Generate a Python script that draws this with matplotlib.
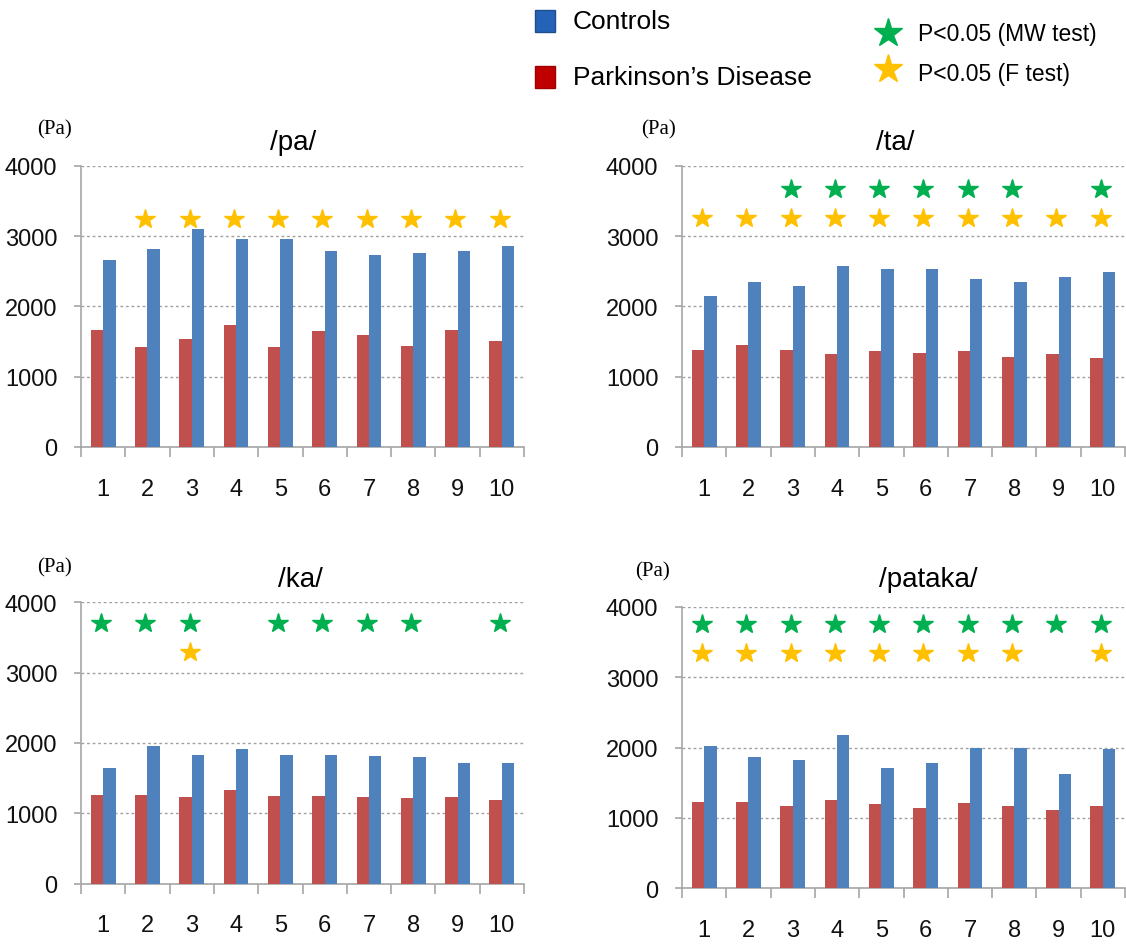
import matplotlib
matplotlib.use('Agg')
import matplotlib.pyplot as plt
from matplotlib.patches import Rectangle
from matplotlib.lines import Line2D

# 数据
groups = ['/pa/', '/ta/', '/ka/', '/pataka/']
trials = list(range(1, 11))

pd_pa = [1658, 1425, 1534, 1734, 1425, 1644, 1596, 1439, 1658, 1501]
ctrl_pa = [2665, 2817, 3097, 2960, 2960, 2784, 2727, 2755, 2784, 2865]
pd_ta = [1381, 1457, 1381, 1329, 1362, 1343, 1362, 1286, 1329, 1272]
ctrl_ta = [2142, 2351, 2285, 2570, 2537, 2537, 2394, 2351, 2413, 2494]
pd_ka = [1265, 1265, 1237, 1332, 1251, 1251, 1237, 1218, 1237, 1190]
ctrl_ka = [1640, 1953, 1829, 1910, 1829, 1829, 1810, 1796, 1720, 1720]
pd_pataka = [1223, 1223, 1166, 1256, 1194, 1147, 1209, 1166, 1114, 1166]
ctrl_pataka = [2019, 1863, 1820, 2175, 1706, 1787, 2000, 2000, 1630, 1981]

# 显著性星号所在的 trial 及其高度
mw_pa = []
f_pa = [2, 3, 4, 5, 6, 7, 8, 9, 10]
mw_ta = [3, 4, 5, 6, 7, 8, 10]
f_ta = [1, 2, 3, 4, 5, 6, 7, 8, 9, 10]
mw_ka = [1, 2, 3, 5, 6, 7, 8, 10]
f_ka = [3]
mw_pataka = [1, 2, 3, 4, 5, 6, 7, 8, 9, 10]
f_pataka = [1, 2, 3, 4, 5, 6, 7, 8, 10]
mw_level = [3700, 3670, 3706, 3758]
f_level = [3240, 3250, 3289, 3346]

pd_all = [pd_pa, pd_ta, pd_ka, pd_pataka]
ctrl_all = [ctrl_pa, ctrl_ta, ctrl_ka, ctrl_pataka]
mw_all = [mw_pa, mw_ta, mw_ka, mw_pataka]
f_all = [f_pa, f_ta, f_ka, f_pataka]

RED = '#C0504D'
BLUE = '#4F81BD'
GREEN = '#00B050'
GOLD = '#FFC000'
GREY = '#A6A6A6'
SANS = ['Liberation Sans', 'DejaVu Sans']
SERIF = ['Liberation Serif', 'DejaVu Serif']

W, H = 1126, 945
fig = plt.figure(figsize=(W / 100, H / 100), dpi=100)

# 每个面板: 左, 上(4000), 下(0), 像素
panels = [(81, 166.7, 448), (682, 166.7, 448), (81, 603.3, 884.7), (682, 608, 889.3)]
titles_pos = [(293, 143), (895, 143), (300, 580), (928, 580)]
pa_pos = [(54, 130), (659, 130), (54, 568), (652, 572)]

for i in range(4):
    left, top, bottom = panels[i]
    ax = fig.add_axes([left / W, 1 - bottom / H, 443 / W, (bottom - top) / H])
    x = trials
    ax.bar([t - 0.14 for t in x], pd_all[i], width=0.28, color=RED, zorder=3)
    ax.bar([t + 0.14 for t in x], ctrl_all[i], width=0.28, color=BLUE, zorder=3)
    ax.plot([t - 0.05 for t in mw_all[i]], [mw_level[i]] * len(mw_all[i]), ls='none',
            marker='*', ms=15, color=GREEN, zorder=4)
    ax.plot([t - 0.05 for t in f_all[i]], [f_level[i]] * len(f_all[i]), ls='none',
            marker='*', ms=15, color=GOLD, zorder=4)

    ax.set_xlim(0.5, 10.5)
    ax.set_ylim(0, 4000)
    ax.set_yticks([0, 1000, 2000, 3000, 4000])
    ax.set_xticks(x)
    ax.set_xticks([t + 0.5 for t in range(0, 11)], minor=True)
    ax.tick_params(axis='x', which='major', length=0, pad=22)
    ax.tick_params(axis='x', which='minor', length=7, color=GREY, width=1.2)
    ax.tick_params(axis='y', length=5, color=GREY, width=1.2, pad=12)
    for lab in ax.get_xticklabels() + ax.get_yticklabels():
        lab.set_fontfamily(SANS)
        lab.set_fontsize(17)
        lab.set_color('#111111')
    ax.grid(axis='y', linestyle=(0, (2, 2)), color='#A0A0A0', linewidth=1, zorder=0)
    for s in ['top', 'right']:
        ax.spines[s].set_visible(False)
    for s in ['left', 'bottom']:
        ax.spines[s].set_color(GREY)
        ax.spines[s].set_linewidth(1.2)

    tx, ty = titles_pos[i]
    fig.text(tx / W, 1 - ty / H, groups[i], fontsize=20, ha='center', va='center', family=SANS)
    px, py = pa_pos[i]
    fig.text(px / W, 1 - py / H, '(Pa)', fontsize=15, ha='center', va='center', family=SERIF)

# 图例
fig.patches.append(Rectangle((535 / W, 1 - 33 / H), 20 / W, 22 / H, transform=fig.transFigure,
                             facecolor='#2563B8', edgecolor='#1F4E8C', lw=1))
fig.patches.append(Rectangle((535 / W, 1 - 89 / H), 20 / W, 22 / H, transform=fig.transFigure,
                             facecolor='#C00000', edgecolor='#A00000', lw=1))
fig.text(573 / W, 1 - 22 / H, 'Controls', fontsize=19, va='center', family=SANS)
fig.text(573 / W, 1 - 78 / H, 'Parkinson\u2019s Disease', fontsize=19, va='center', family=SANS)
fig.add_artist(Line2D([888 / W], [1 - 34 / H], marker='*', ms=21, color=GREEN, ls='none',
                      transform=fig.transFigure))
fig.add_artist(Line2D([888 / W], [1 - 70 / H], marker='*', ms=21, color=GOLD, ls='none',
                      transform=fig.transFigure))
fig.text(918 / W, 1 - 35 / H, 'P<0.05 (MW test)', fontsize=16.5, va='center', family=SANS)
fig.text(918 / W, 1 - 74 / H, 'P<0.05 (F test)', fontsize=16.5, va='center', family=SANS)

plt.savefig('out.png', dpi=100)
